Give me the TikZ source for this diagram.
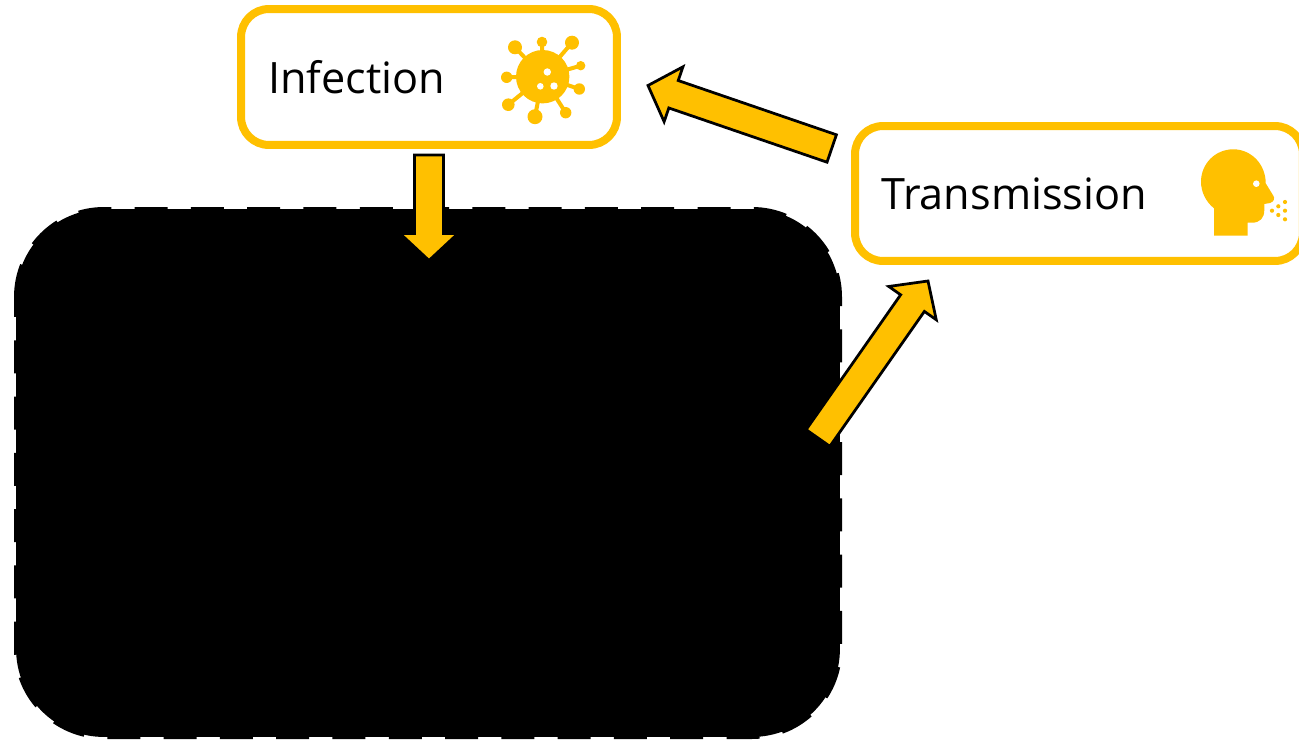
\documentclass[tikz,border=0pt]{standalone}
\usepackage{fontspec}
\setmainfont{Open Sans}
\usetikzlibrary{calc, positioning}

\definecolor{stageyellow}{HTML}{FFC000}

\tikzset{
    stagebox/.style={draw=stageyellow, line width=0.16cm, rounded corners=0.56cm, fill=white, inner sep=0pt},
    stagelabel/.style={anchor=base west, inner sep=0pt, font=\fontsize{24.6}{28}\selectfont},
    blockarrow/.style={draw=black, fill=stageyellow, line width=0.055cm, to path={
        let \p1=($(\tikztotarget)!0.54cm!(\tikztostart)$) in
        ($(\tikztostart)!0.29cm!90:(\tikztotarget)$)
        -- ($(\p1)!0.29cm!90:(\tikztotarget)$)
        -- ($(\p1)!0.58cm!90:(\tikztotarget)$)
        -- (\tikztotarget)
        -- ($(\p1)!0.58cm!-90:(\tikztotarget)$)
        -- ($(\p1)!0.29cm!-90:(\tikztotarget)$)
        -- ($(\tikztostart)!0.29cm!-90:(\tikztotarget)$)
        -- cycle}}
}

\begin{document}
\begin{tikzpicture}[x=0.02cm, y=-0.02cm]
    \useasboundingbox (0,0) rectangle (1299,740);

    % dashed region
    \node[fill=black, rounded corners=1.76cm, minimum width=16.48cm, minimum height=10.56cm, inner sep=0pt] (region) at (428,473) {};
    \draw[black, line width=0.08cm, rounded corners=1.76cm, dash pattern=on 0.66cm off 0.466cm]
        (16,297) -- (16,209) -- (840,209) -- (840,737) -- (16,737) -- (16,297);

    % stages
    \node[stagebox, minimum width=7.52cm, minimum height=2.72cm] (infection) at (429,77) {};
    \node[stagebox, minimum width=8.96cm, minimum height=2.7cm] (transmission) at (1079,193.5) {};
    \node[stagelabel] (infectionlabel) at (268,94) {Infection};
    \node[stagelabel] (transmissionlabel) at (881,210) {Transmission};

    % virus
    \fill[stageyellow] (542.7,76.7) circle (26.7);
    \foreach \px/\py/\r in {515/47.3/7, 542/42/5.3, 572/42.7/7, 580.7/65.7/4.7, 579.3/89/5.7,
        565.7/112.7/5.7, 535/116.7/7.5, 508.3/104.7/6.3, 506.7/77.3/5.7} {
        \draw[stageyellow, line width=0.08cm] (542.7,76.7) -- (\px,\py);
        \fill[stageyellow] (\px,\py) circle (\r);
    }
    \foreach \px/\py/\r in {547.3/72/3.7, 540.3/86.3/3.3, 554/86/3.7}
        \fill[white] (\px,\py) circle (\r);

    % head
    \fill[stageyellow] (1214,235.7) -- (1247.7,235.7) -- (1247.7,222.7) -- (1252,222.7)
        .. controls (1260,222.7) and (1264.3,218) .. (1264.3,210) -- (1264.3,204) -- (1270,203)
        .. controls (1274,202) and (1275,198) .. (1273.3,195.7) -- (1265.7,183.3)
        .. controls (1265.7,164) and (1251,149.3) .. (1233.3,149.3)
        .. controls (1215,149.3) and (1201,164) .. (1201,181.7)
        .. controls (1201,192) and (1206,202) .. (1214,208.3) -- cycle;
    \fill[white] (1256.3,183.7) circle (3.3);
    \foreach \px/\py in {1285/202, 1278.3/206.3, 1272/210.7, 1285/210.7, 1278.3/215, 1285/219.3}
        \fill[stageyellow] (\px,\py) circle (2.1);

    % arrows
    \coordinate (infectionout) at (429,155);
    \coordinate (regionin) at (429,260.5);
    \coordinate (regionout) at (818,438);
    \coordinate (transmissionin) at (928,281);
    \coordinate (transmissionout) at (831.7,148.5);
    \coordinate (infectionin) at (648,85.5);
    \draw[blockarrow] (infectionout) to (regionin);
    \draw[blockarrow] (regionout) to (transmissionin);
    \draw[blockarrow] (transmissionout) to (infectionin);
\end{tikzpicture}
\end{document}
